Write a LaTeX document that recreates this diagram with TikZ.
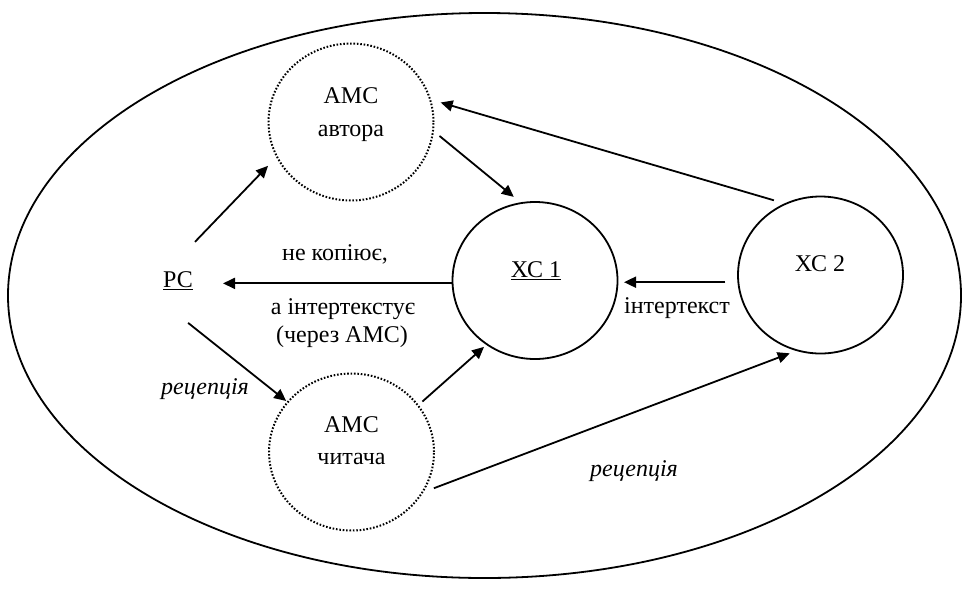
\documentclass[tikz,border=0pt]{standalone}
\usepackage{fontspec}
\setmainfont{Liberation Serif}
\usetikzlibrary{shapes.geometric,arrows.meta}
\begin{document}
\begin{tikzpicture}[x=1pt,y=-1pt,
  every node/.style={font=\fontsize{24}{28}\selectfont},
  solidring/.style={draw, ellipse, line width=1.8pt, minimum width=165pt, minimum height=157pt, inner sep=0pt, outer sep=0pt},
  dotring/.style={solidring, line width=2pt, dash pattern=on 1.6pt off 1.8pt},
  lbl/.style={anchor=base, inner sep=0pt},
  arr/.style={line width=1.8pt, -{Triangle[length=12pt,width=11pt]}}]
\useasboundingbox (0,0) rectangle (965,592);
% frame
\node[draw, ellipse, line width=1.8pt, minimum width=953pt, minimum height=565pt, inner sep=0pt] (frame) at (484.5,295.5) {};
% circles
\node[solidring] (x1) at (535,280.5) {};
\node[solidring] (x2) at (820.5,275) {};
\node[dotring] (a1) at (351,122) {};
\node[dotring] (a2) at (351.5,452) {};
\node[inner sep=0pt, outer sep=0pt, minimum width=60pt, minimum height=40pt] (pc) at (178,281) {\underline{РС}};
% texts
\node[lbl] (a1t) at (351,103.3) {АМС};
\node[lbl] (a1b) at (351,136) {автора};
\node[lbl] (a2t) at (351.5,432.7) {АМС};
\node[lbl] (a2b) at (351.5,464) {читача};
\node[lbl] (x1t) at (536,277.3) {\underline{ХС 1}};
\node[lbl] (x2t) at (820,271.7) {ХС 2};
\node[lbl] (l1) at (335,260) {не копіює,};
\node[lbl] (l2) at (343,314) {а інтертекстує};
\node[lbl] (l3) at (342,342.7) {(через АМС)};
\node[lbl] (l4) at (677,313.3) {інтертекст};
\node[lbl] (r1) at (205,394) {\textit{рецепція}};
\node[lbl] (r2) at (634,476.7) {\textit{рецепція}};
% connectors
\draw[arr, shorten <=26.5pt, shorten >=12.85pt] (pc.94.3) -- (a1.205.8);
\draw[arr, shorten <=8.4pt, shorten >=9.8pt] (a1.354) -- (x1.100.5);
\draw[arr, shorten <=12.4pt, shorten >=11.1pt] (x2.116.8) -- (a1.16.3);
\draw[arr, shorten >=15pt] (x1.182) -- (x1.182 -| pc.east);
\draw[arr, shorten <=13pt, shorten >=6.5pt] (x2.185.5) -- (x2.185.5 -| x1.east);
\draw[arr, shorten <=35.1pt, shorten >=2pt] (pc.229) -- (a2.142.6);
\draw[arr, shorten <=5.9pt, shorten >=3.85pt] (a2.35.1) -- (x1.233);
\draw[arr, shorten <=12.65pt, shorten >=8.3pt] (a2.330.5) -- (x2.253.2);
\end{tikzpicture}
\end{document}
